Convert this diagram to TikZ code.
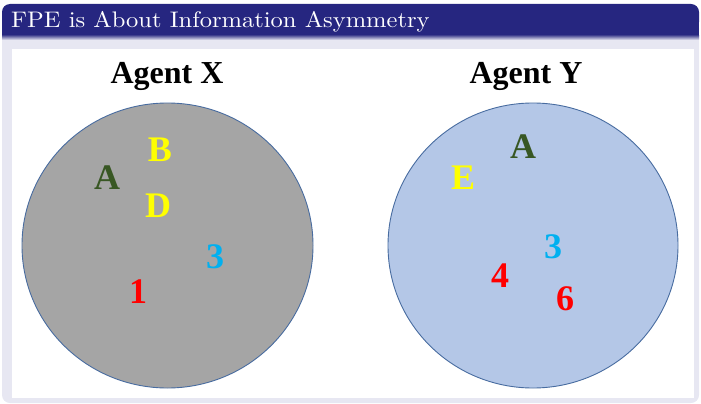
\documentclass[tikz,border=0pt]{standalone}
\usepackage{fontspec}
\newfontfamily\agentfont{Liberation Serif}
\newfontfamily\titlefont{lmroman10-regular.otf}
\definecolor{navy}{RGB}{38,38,128}
\definecolor{lav}{RGB}{231,231,242}
\definecolor{rimblue}{RGB}{72,108,160}
\definecolor{setgray}{RGB}{165,165,165}
\definecolor{setblue}{RGB}{180,199,231}
\definecolor{leafgreen}{RGB}{56,87,35}
\definecolor{sunyellow}{RGB}{255,255,0}
\definecolor{skyblue}{RGB}{0,176,240}
\definecolor{hotred}{RGB}{255,0,0}
\tikzset{
  setdisc/.style={draw=rimblue, line width=0.9pt},
  agentlabel/.style={anchor=base, inner sep=0pt, font=\agentfont\bfseries\fontsize{32}{32}\selectfont},
  item/.style={inner sep=0pt, font=\agentfont\bfseries\fontsize{36}{36}\selectfont}
}
\begin{document}
\begin{tikzpicture}[x=1pt,y=-1pt]
\useasboundingbox (0,0) rectangle (701,404);
% frame and title bar
\fill[lav, rounded corners=8pt] (2,20) rectangle (699,403);
\fill[navy, rounded corners=8pt] (2,4) rectangle (699,30);
\fill[navy] (2,20) rectangle (699,36);
\shade[top color=navy!70!lav, bottom color=lav] (2,36) rectangle (699,40);
\node[anchor=base west, inner sep=0pt, text=white, xscale=1.09, font=\titlefont\fontsize{22.5}{22.5}\selectfont] (title) at (11,27.5) {FPE is About Information Asymmetry};
\fill[white] (12,49) rectangle (694,398);
% the two agents' sets
\draw[setdisc, fill=setgray] (167.5,245.5) ellipse [x radius=145.5, y radius=142.5];
\draw[setdisc, fill=setblue] (533,245.5) ellipse [x radius=145, y radius=142.5];
\node[agentlabel] (agentX) at (167,84) {Agent X};
\node[agentlabel] (agentY) at (526,84) {Agent Y};
% Agent X
\node[item, text=sunyellow] (xB) at (160,150) {B};
\node[item, text=leafgreen] (xA) at (107,178) {A};
\node[item, text=sunyellow] (xD) at (158,206) {D};
\node[item, text=skyblue] (x3) at (215,257) {3};
\node[item, text=hotred] (x1) at (138,292) {1};
% Agent Y
\node[item, text=leafgreen] (yA) at (523,147) {A};
\node[item, text=sunyellow] (yE) at (463,178) {E};
\node[item, text=skyblue] (y3) at (553,247) {3};
\node[item, text=hotred] (y4) at (500,276) {4};
\node[item, text=hotred] (y6) at (565,299) {6};
\end{tikzpicture}
\end{document}
